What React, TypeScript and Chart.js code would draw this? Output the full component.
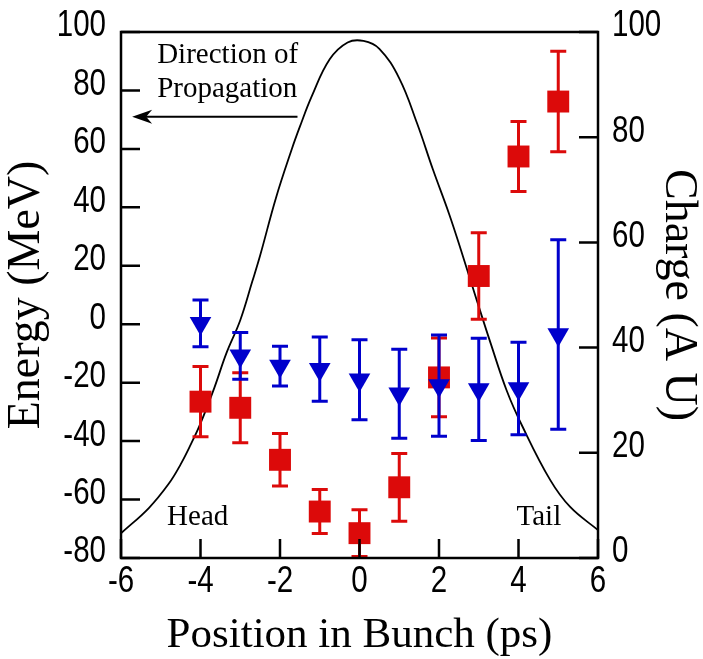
import React, { useEffect, useRef } from "react";
import { Chart, registerables } from "chart.js";

Chart.register(...registerables);

// ---- data ----
const positions = [-4, -3, -2, -1, 0, 1, 2, 3, 4, 5];
const redEnergy = [-26.5, -28.6, -46.4, -64.1, -71.5, -55.8, -18.2, 16.5, 57.4, 76.2];
const redErr = [12, 12, 9, 7.5, 8, 11.6, 13.5, 14.8, 12, 17.2];
const blueEnergy = [0.3, -10.8, -14.3, -15.4, -19, -23.8, -21, -22.3, -22, -3.5];
const blueErr = [8, 8, 6.8, 11, 13.7, 15.2, 17.3, 17.5, 15.8, 32.4];

const chargeX = [-6.0, -5.3, -4.8, -4.5, -4.25, -4.0, -3.65, -3.35, -3.0, -2.7, -2.5, -2.1, -1.7, -1.5, -1.2, -0.75, -0.3, 0.1, 0.5, 1.0, 1.45, 1.85, 2.25, 2.55, 2.95, 3.3, 3.7, 4.1, 4.8, 5.3, 6.0];
const chargeY = [4.7, 9.5, 14.1, 17.8, 21.5, 25.6, 32.4, 38.9, 45.2, 52.5, 57.5, 68.5, 77.8, 82.0, 87.8, 94.8, 98.0, 98.3, 96.8, 91.2, 82.6, 73.8, 65.5, 58.6, 49.0, 40.8, 31.9, 25.0, 14.8, 9.7, 5.3];

const xTicks = [-6, -4, -2, 0, 2, 4, 6];
const energyTicks = [-80, -60, -40, -20, 0, 20, 40, 60, 80, 100];
const chargeTicks = [0, 20, 40, 60, 80, 100];

const RED = "#dc0a0a";
const BLUE = "#0000cc";
const SERIF = '"Liberation Serif", "Times New Roman", serif';
const SANS = '"Liberation Sans", Arial, sans-serif';

// annotation anchors (data coordinates: x position, energy)
const notes = [
  { text: "Direction of", x: -5.09, y: 89.5 },
  { text: "Propagation", x: -5.09, y: 77.8 },
  { text: "Head", x: -4.84, y: -68.7 },
  { text: "Tail", x: 3.95, y: -68.7 },
];
const arrow = { x0: -1.56, x1: -5.72, y: 71 };

function narrowText(ctx: any, text: string, x: number, y: number, align: string) {
  ctx.save();
  ctx.translate(x, y);
  ctx.scale(0.82, 1);
  ctx.textAlign = align;
  ctx.textBaseline = "middle";
  ctx.fillText(text, 0, 0);
  ctx.restore();
}

const decorPlugin = {
  id: "decor",
  beforeDraw(chart: any) {
    const { ctx } = chart;
    ctx.save();
    ctx.fillStyle = "#ffffff";
    ctx.fillRect(0, 0, chart.width, chart.height);
    ctx.restore();
  },
  beforeDatasetDraw(chart: any, args: any) {
    const idx = args.index;
    if (idx !== 1 && idx !== 2) return;
    const vals = idx === 1 ? redEnergy : blueEnergy;
    const errs = idx === 1 ? redErr : blueErr;
    const color = idx === 1 ? RED : BLUE;
    const xs = chart.scales.x;
    const ys = chart.scales.y;
    const { ctx } = chart;
    ctx.save();
    ctx.strokeStyle = color;
    ctx.lineWidth = 3;
    for (let i = 0; i < positions.length; i++) {
      const px = xs.getPixelForValue(positions[i]);
      const top = ys.getPixelForValue(vals[i] + errs[i]);
      const bot = ys.getPixelForValue(vals[i] - errs[i]);
      ctx.beginPath();
      ctx.moveTo(px, top);
      ctx.lineTo(px, bot);
      ctx.moveTo(px - 8, top);
      ctx.lineTo(px + 8, top);
      ctx.moveTo(px - 8, bot);
      ctx.lineTo(px + 8, bot);
      ctx.stroke();
    }
    ctx.restore();
  },
  afterDraw(chart: any) {
    const { ctx, chartArea: a } = chart;
    const xs = chart.scales.x;
    const ys = chart.scales.y;
    const y1 = chart.scales.y1;
    ctx.save();
    ctx.strokeStyle = "#000";
    ctx.lineWidth = 2.5;
    // inward ticks
    ctx.beginPath();
    energyTicks.forEach((v) => {
      const p = ys.getPixelForValue(v);
      ctx.moveTo(a.left, p);
      ctx.lineTo(a.left + 19, p);
    });
    chargeTicks.forEach((v) => {
      const p = y1.getPixelForValue(v);
      ctx.moveTo(a.right, p);
      ctx.lineTo(a.right - 19, p);
    });
    xTicks.forEach((v) => {
      const p = xs.getPixelForValue(v);
      ctx.moveTo(p, a.bottom);
      ctx.lineTo(p, a.bottom - 19);
    });
    ctx.stroke();
    // frame
    ctx.lineWidth = 2.5;
    ctx.strokeRect(a.left, a.top, a.right - a.left, a.bottom - a.top);

    // tick labels (narrow sans)
    ctx.fillStyle = "#000";
    ctx.font = `36px ${SANS}`;
    energyTicks.forEach((v) => {
      narrowText(ctx, String(v), a.left - 15, ys.getPixelForValue(v) - 5.5, "right");
    });
    chargeTicks.forEach((v) => {
      narrowText(ctx, String(v), a.right + 14, y1.getPixelForValue(v) - 5.5, "left");
    });
    xTicks.forEach((v) => {
      narrowText(ctx, String(v), xs.getPixelForValue(v), a.bottom + 24, "center");
    });

    // arrow
    const ax0 = xs.getPixelForValue(arrow.x0);
    const ax1 = xs.getPixelForValue(arrow.x1);
    const ay = ys.getPixelForValue(arrow.y);
    ctx.lineWidth = 2;
    ctx.beginPath();
    ctx.moveTo(ax0, ay);
    ctx.lineTo(ax1 + 6, ay);
    ctx.stroke();
    ctx.beginPath();
    ctx.moveTo(ax1, ay);
    ctx.lineTo(ax1 + 20, ay - 7);
    ctx.lineTo(ax1 + 14, ay);
    ctx.lineTo(ax1 + 20, ay + 7);
    ctx.closePath();
    ctx.fill();

    // text notes
    ctx.font = `29px ${SERIF}`;
    ctx.textBaseline = "alphabetic";
    ctx.textAlign = "left";
    notes.forEach((n) => {
      ctx.fillText(n.text, xs.getPixelForValue(n.x), ys.getPixelForValue(n.y));
    });
    ctx.restore();
  },
};

export default function App() {
  const ref = useRef<HTMLCanvasElement | null>(null);
  useEffect(() => {
    document.body.style.margin = "0";
    const canvas = ref.current!;
    const chart = new Chart(canvas, {
      type: "scatter",
      data: {
        datasets: [
          {
            type: "line",
            label: "Charge",
            data: chargeX.map((x, i) => ({ x, y: chargeY[i] })),
            yAxisID: "y1",
            borderColor: "#000",
            borderWidth: 1.8,
            pointRadius: 0,
            fill: false,
            tension: 0.4,
            order: 3,
          },
          {
            label: "Red",
            data: positions.map((x, i) => ({ x, y: redEnergy[i] })),
            yAxisID: "y",
            pointStyle: "rect",
            pointRadius: 15.5,
            backgroundColor: RED,
            borderWidth: 0,
            order: 2,
          },
          {
            label: "Blue",
            data: positions.map((x, i) => ({ x, y: blueEnergy[i] })),
            yAxisID: "y",
            pointStyle: "triangle",
            rotation: 180,
            pointRadius: 12.5,
            backgroundColor: BLUE,
            borderWidth: 0,
            order: 1,
          },
        ],
      },
      options: {
        animation: false,
        responsive: false,
        devicePixelRatio: 1,
        layout: { padding: { top: 32, left: 0, right: 0, bottom: 0 } },
        plugins: { legend: { display: false }, tooltip: { enabled: false } },
        scales: {
          x: {
            type: "linear",
            min: -6,
            max: 6,
            afterBuildTicks: (s: any) => {
              s.ticks = xTicks.map((v) => ({ value: v }));
            },
            afterFit: (s: any) => {
              s.height = 101;
            },
            grid: { display: false },
            border: { display: false },
            ticks: { display: false },
            title: {
              display: true,
              text: "Position in Bunch (ps)",
              color: "#000",
              font: { family: SERIF, size: 43, lineHeight: 1 },
              padding: { top: 0, bottom: 2 },
            },
          },
          y: {
            type: "linear",
            position: "left",
            min: -80,
            max: 100,
            afterBuildTicks: (s: any) => {
              s.ticks = energyTicks.map((v) => ({ value: v }));
            },
            afterFit: (s: any) => {
              s.width = 121;
            },
            grid: { display: false },
            border: { display: false },
            ticks: { display: false },
            title: {
              display: true,
              text: "Energy (MeV)",
              color: "#000",
              font: { family: SERIF, size: 46, lineHeight: 1 },
              padding: { top: 4, bottom: 0 },
            },
          },
          y1: {
            type: "linear",
            position: "right",
            min: 0,
            max: 100,
            afterBuildTicks: (s: any) => {
              s.ticks = chargeTicks.map((v) => ({ value: v }));
            },
            afterFit: (s: any) => {
              s.width = 105;
            },
            grid: { display: false },
            border: { display: false },
            ticks: { display: false },
            title: {
              display: true,
              text: "Charge (A U)",
              color: "#000",
              font: { family: SERIF, size: 46, lineHeight: 1 },
              padding: { top: 2, bottom: 0 },
            },
          },
        },
      },
      plugins: [decorPlugin],
    } as any);
    return () => chart.destroy();
  }, []);
  return <canvas ref={ref} width={703} height={659} style={{ display: "block" }} />;
}
